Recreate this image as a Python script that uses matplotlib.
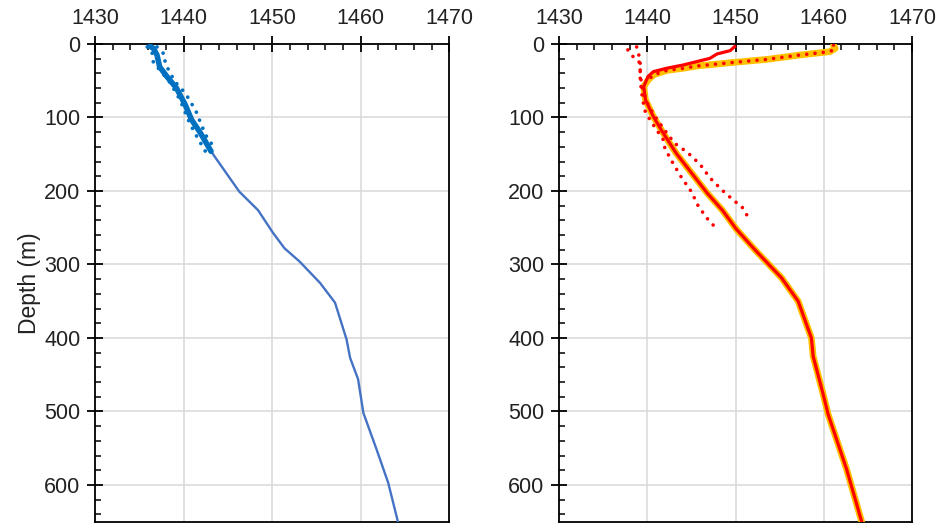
import matplotlib
matplotlib.use("Agg")
import matplotlib.pyplot as plt
from matplotlib.ticker import MultipleLocator

plt.rcParams['font.family'] = ['Liberation Sans', 'DejaVu Sans']

# ---------------- data ----------------
# Left panel: mean profile (thick), confidence band (dotted), deep profile (thin)
left_mean_depth = [3, 6, 15, 31, 44, 60, 83, 103, 121, 146]
left_mean_speed = [1436.2, 1436.6, 1437.0, 1437.3, 1438.1, 1439.2, 1440.2, 1440.9, 1441.9, 1443.1]
left_lo_depth = [4, 8, 26, 35, 53, 76, 108, 126, 149]
left_lo_speed = [1435.9, 1436.4, 1436.6, 1437.3, 1438.5, 1439.6, 1440.7, 1441.5, 1442.6]
left_hi_depth = [4, 15, 26, 51, 67, 81, 94, 110, 126, 140]
left_hi_speed = [1437.0, 1437.9, 1437.9, 1439.0, 1440.2, 1440.9, 1441.5, 1442.0, 1442.6, 1443.4]
left_deep_depth = [146, 153, 201, 226, 257, 278, 296, 325, 352, 375, 402, 427, 456, 502, 552, 597, 650]
left_deep_speed = [1443.1, 1443.5, 1446.3, 1448.4, 1450.1, 1451.4, 1453.1, 1455.4, 1457.1, 1457.7,
                   1458.4, 1458.8, 1459.7, 1460.3, 1461.8, 1463.1, 1464.2]

# Right panel
right_a_top_depth = [1.4, 6, 10.4, 15, 21, 25, 30, 33, 36, 42, 49]
right_a_top_speed = [1461.1, 1461.3, 1460.7, 1457.3, 1453.5, 1449.8, 1445.6, 1444.1, 1442.2, 1440.7, 1440.1]
right_b_top_depth = [3.6, 9, 13.6, 19.5, 24, 28.5, 33, 37.6, 44]
right_b_top_speed = [1449.9, 1449.4, 1447.9, 1447.1, 1445.6, 1444.1, 1442.2, 1440.7, 1440.1]
right_deep_depth = [58, 76, 99, 121, 149, 203, 226, 252, 280, 318, 350, 400, 425, 475, 504, 579, 650]
right_deep_speed = [1439.6, 1439.8, 1440.7, 1441.8, 1443.3, 1446.8, 1448.5, 1450.1, 1452.2, 1455.2,
                    1457.1, 1458.6, 1458.8, 1459.9, 1460.5, 1462.6, 1464.3]
right_lo_depth = [8, 15, 26, 49, 69, 90, 103, 130, 142, 162, 182, 201, 221, 239, 248]
right_lo_speed = [1437.8, 1438.2, 1439.2, 1439.2, 1439.4, 1439.7, 1440.3, 1441.8, 1442.0, 1442.9,
                  1443.9, 1445.0, 1445.8, 1446.9, 1447.6]
right_hi_depth = [4, 22, 42, 63, 83, 99, 121, 135, 148, 164, 182, 198, 214, 221, 239]
right_hi_speed = [1438.8, 1439.2, 1439.2, 1439.5, 1440.1, 1440.9, 1442.2, 1443.1, 1444.6, 1446.0,
                  1447.1, 1448.4, 1449.9, 1450.7, 1451.6]

x_ticks = [1430, 1440, 1450, 1460, 1470]
y_ticks = [0, 100, 200, 300, 400, 500, 600]

# ---------------- figure ----------------
fig = plt.figure(figsize=(9.4, 5.25), dpi=100)
ax1 = fig.add_axes([95 / 940, 1 - 521.7 / 525, (449.3 - 95) / 940, (521.7 - 44) / 525])
ax2 = fig.add_axes([559 / 940, 1 - 521.7 / 525, (912 - 559) / 940, (521.7 - 44) / 525])

DOT = (0, (0.01, 2.3))
BLUE = '#0070C0'
BLUE2 = '#4472C4'
RED = '#FF0000'
YEL = '#FFC000'

# left
ax1.plot(left_deep_speed, left_deep_depth, color=BLUE2, lw=1.7, zorder=3)
ax1.plot(left_mean_speed, left_mean_depth, color=BLUE, lw=4.0, zorder=4, solid_capstyle='round')
for s, d in [(left_lo_speed, left_lo_depth), (left_hi_speed, left_hi_depth)]:
    ax1.plot(s, d, color=BLUE, lw=2.7, linestyle=DOT, dash_capstyle='round', zorder=4)

# right
ax2.plot(right_a_top_speed + right_deep_speed, right_a_top_depth + right_deep_depth,
         color=YEL, lw=4.8, zorder=3, solid_capstyle='round')
ax2.plot(right_a_top_speed, right_a_top_depth, color=RED, lw=2.6, linestyle=DOT,
         dash_capstyle='round', zorder=4)
ax2.plot(right_b_top_speed + right_deep_speed, right_b_top_depth + right_deep_depth,
         color=RED, lw=2.3, zorder=5)
for s, d in [(right_lo_speed, right_lo_depth), (right_hi_speed, right_hi_depth)]:
    ax2.plot(s, d, color=RED, lw=2.6, linestyle=DOT, dash_capstyle='round', zorder=4)

for ax, show_label in [(ax1, True), (ax2, False)]:
    ax.set_xlim(1430, 1470)
    ax.set_ylim(650, 0)
    ax.xaxis.tick_top()
    ax.set_xticks(x_ticks)
    ax.set_yticks(y_ticks)
    ax.xaxis.set_minor_locator(MultipleLocator(2))
    ax.yaxis.set_minor_locator(MultipleLocator(20))
    ax.tick_params(which='major', direction='inout', length=11, width=1.3, labelsize=15.5,
                   colors='black', pad=5)
    ax.tick_params(which='minor', direction='in', length=4, width=1.1)
    ax.tick_params(axis='x', which='both', top=True, bottom=False)
    ax.tick_params(axis='y', which='both', left=True, right=False)
    ax.grid(True, which='major', color='#d9d9d9', lw=1.1, zorder=0)
    ax.set_axisbelow(True)
    for sp in ax.spines.values():
        sp.set_color('black')
        sp.set_linewidth(1.3)
    for lab in ax.get_xticklabels() + ax.get_yticklabels():
        lab.set_color('#222222')
    if show_label:
        ax.set_ylabel('Depth (m)', fontsize=16.5, labelpad=2, color='#222222')

fig.savefig('out.png', dpi=100)
